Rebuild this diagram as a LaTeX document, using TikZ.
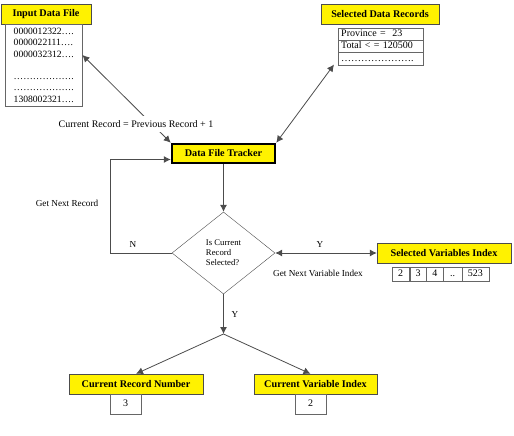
\documentclass[tikz,border=0pt]{standalone}
\usepackage{fontspec}
\setmainfont{Liberation Serif}
\usetikzlibrary{matrix, positioning}
\usetikzlibrary{shapes.geometric}
\usetikzlibrary{arrows.meta}
\tikzset{
	title/.style={draw=black!70, fill=yellow, rectangle, inner sep=0pt, minimum height=20pt, font=\bfseries\fontsize{10.2}{11}\selectfont},
	cell/.style={draw=black!60, rectangle, inner sep=0pt, text height=7pt, text depth=2pt, font=\fontsize{10}{11}\selectfont},
	decision/.style={draw=black!70, diamond, inner sep=0pt, minimum width=103pt, minimum height=82pt, align=left, font=\fontsize{8.7}{10}\selectfont},
	% plain labels next to the connectors
	lbl/.style={inner sep=0pt, font=\fontsize{9.2}{10}\selectfont},
}

\begin{document}
\begin{tikzpicture}[x=1pt, y=-1pt]
		
		\useasboundingbox (0,0) rectangle (514,436);
		
		\node (infile) [title, minimum width=90pt] at (46,14) {Input Data File};
		\node (inrec) [draw=black!60, rectangle, anchor=north west, inner xsep=0pt, minimum width=77pt, minimum height=82pt, align=left, font=\fontsize{9.6}{11.3}\selectfont] at (5,24) {0000012322….\\0000022111….\\0000032312….\\ \\……………….\\……………….\\1308002321….};
		
		\node (selrectitle) [title, minimum width=118pt] at (380,14) {Selected Data Records};
		\matrix (selrec) [matrix of nodes, anchor=north west, row sep=-0.6pt,
			nodes={cell, minimum height=12.5pt, text width=78pt, inner xsep=3.5pt, align=left}] at (334,24) {
			Province =\ \ 23 \\
			Total < = 120500 \\
			…………………. \\
		};
		
		\node (tracker) [title, draw=black, line width=2.5pt, minimum width=103pt, minimum height=19pt] at (223.5,153.5) {Data File Tracker};
		\node (decide) [decision] at (223.5,253) {Is Current\\Record\\Selected?};
		
		\node (selvar) [title, minimum width=134pt] at (444,253) {Selected Variables Index};
		\matrix (varidx) [matrix of nodes, anchor=north west, column sep=-0.6pt,
			nodes={cell, minimum height=14pt},
			column 1/.style={nodes={minimum width=18pt}},
			column 2/.style={nodes={minimum width=17pt}},
			column 3/.style={nodes={minimum width=17pt}},
			column 4/.style={nodes={minimum width=19pt}},
			column 5/.style={nodes={minimum width=27pt}}] at (388,263) {
			2 & 3 & 4 & .. & 523 \\
		};
		
		\node (currec) [title, minimum width=134pt] at (136,384) {Current Record Number};
		\node (currecval) [cell, minimum width=31pt, minimum height=20pt, anchor=north] at (125.5,394) {3};
		\node (curvar) [title, minimum width=123pt] at (315.5,384) {Current Variable Index};
		\node (curvarval) [cell, minimum width=31pt, minimum height=20pt, anchor=north] at (310.5,394) {2};
		
		\coordinate (loop) at (110,253);
		\coordinate (split) at (223.5,334);
		
		\begin{scope}[line width=0.8pt, black!70, >={Latex[length=7pt, width=7pt]}]
			
			\draw[<->] (tracker.north west) -- ([yshift=-31pt]inrec.north east);
			\draw[<->] (tracker.north east) -- ([yshift=4pt]selrec.south west);
			\draw[->] (tracker.south) -- (decide.north);
			\draw[->] (decide.west) -- (loop) |- ([yshift=-6pt]tracker.west);
			\draw[<->] (decide.east) -- (selvar.west);
			\draw[->] (decide.south) -- (split);
			\draw[->] (split) -- (currec.north);
			\draw[->] (split) -- ([xshift=-5pt]curvar.north);
			
		\end{scope}
		
		\node (counter) [lbl, fill=white, inner sep=4pt, font=\fontsize{10}{11}\selectfont] at (136,124) {Current Record = Previous Record + 1};
		\node (nextrec) [lbl] at (67,203) {Get Next Record};
		\node (no) [lbl] at (133,244) {N};
		\node (yesvar) [lbl] at (320,244) {Y};
		\node (nextvar) [lbl] at (318,273) {Get Next Variable Index};
		\node (yesrec) [lbl] at (235,314) {Y};
		
	\end{tikzpicture}
\end{document}
